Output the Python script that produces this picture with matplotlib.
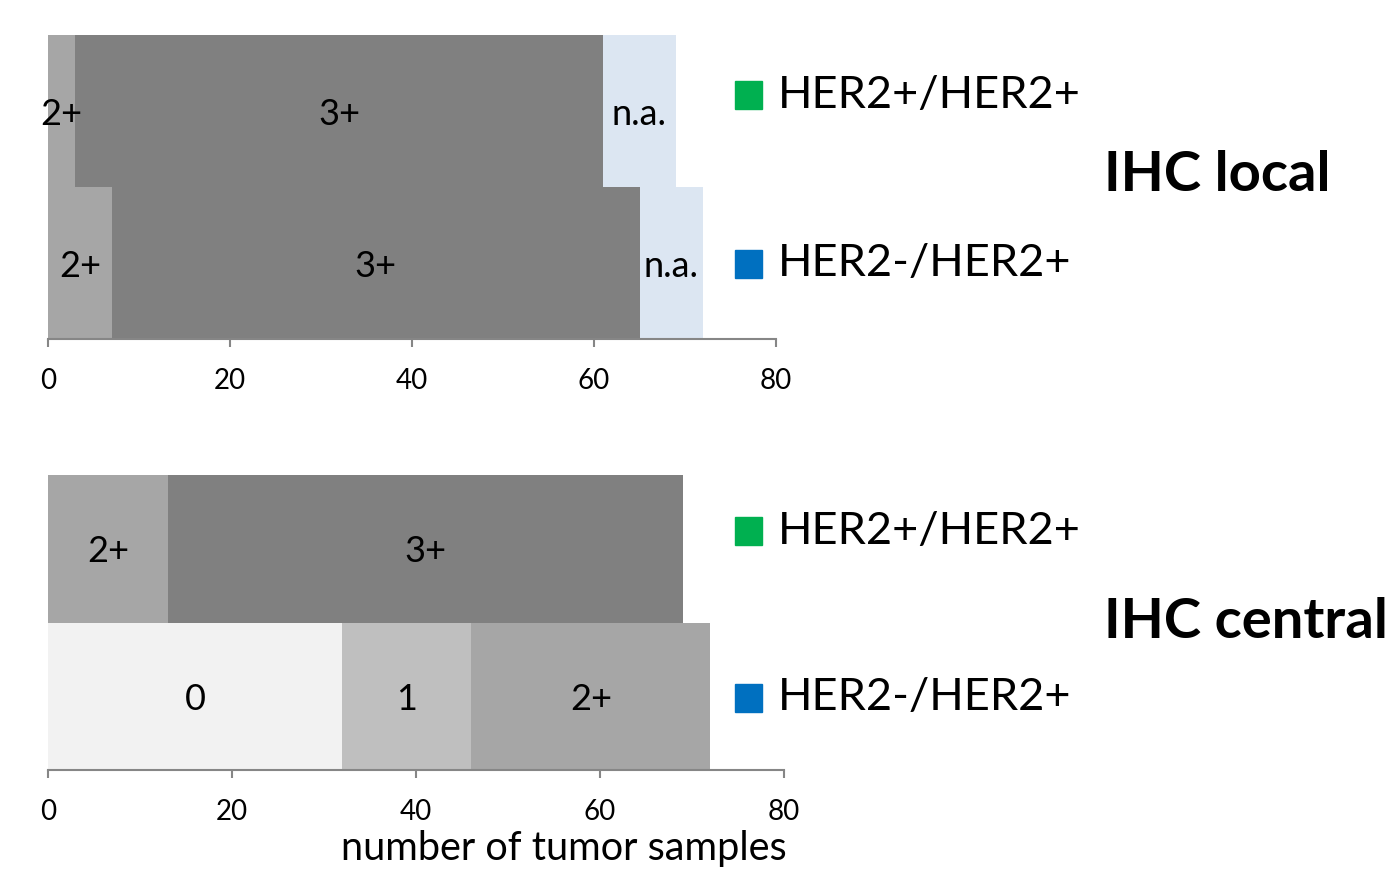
import matplotlib.pyplot as plt
from matplotlib.patches import Rectangle

plt.rcParams['font.family'] = ['Lato', 'DejaVu Sans']

# IHC local: HER2+/HER2+ (top) and HER2-/HER2+ (bottom)
local_cats = ['2+', '3+', 'n.a.']
local_pos = [3, 58, 8]
local_neg = [7, 58, 7]

# IHC central
central_pos_cats = ['2+', '3+']
central_pos = [13, 56]
central_neg_cats = ['0', '1', '2+']
central_neg = [32, 14, 26]

group_names = ['HER2+/HER2+', 'HER2-/HER2+']
group_colors = ['#00b050', '#0070c0']
seg_colors = {'0': '#f2f2f2', '1': '#bfbfbf', '2+': '#a6a6a6',
              '3+': '#808080', 'n.a.': '#dce6f2'}
xticks = [0, 20, 40, 60, 80]
axis_grey = '#868686'

W, H = 1394, 873
fig = plt.figure(figsize=(W / 100, H / 100), dpi=100)


def stacked(ax, ypos, cats, vals):
    left = 0
    for c, v in zip(cats, vals):
        ax.barh(ypos, v, left=left, height=1.0, color=seg_colors[c], edgecolor='none')
        ax.text(left + v / 2, ypos - 0.02, c, ha='center', va='center', fontsize=26)
        left += v


def style(ax):
    ax.set_xlim(0, 80)
    ax.set_ylim(-0.5, 1.5)
    for s in ['top', 'right', 'left']:
        ax.spines[s].set_visible(False)
    ax.spines['bottom'].set_color(axis_grey)
    ax.spines['bottom'].set_linewidth(1.5)
    ax.set_yticks([])
    ax.set_xticks(xticks)
    ax.tick_params(axis='x', direction='out', length=6, width=1.5, color=axis_grey,
                   labelsize=20, pad=15)


# top chart
ax1 = fig.add_axes([48 / W, 1 - 339 / H, 728 / W, 304 / H])
stacked(ax1, 1, local_cats, local_pos)
stacked(ax1, 0, local_cats, local_neg)
style(ax1)

# bottom chart
ax2 = fig.add_axes([48 / W, 1 - 770 / H, 736 / W, 295 / H])
stacked(ax2, 1, central_pos_cats, central_pos)
stacked(ax2, 0, central_neg_cats, central_neg)
style(ax2)
ax2.set_xlabel('number of tumor samples', fontsize=28.5)
ax2.xaxis.set_label_coords(516 / 736, -0.205)


def legend(ys, x0):
    for name, col, y in zip(group_names, group_colors, ys):
        fig.patches.append(Rectangle(((x0) / W, 1 - (y + 14) / H), 27 / W, 28 / H,
                                     transform=fig.transFigure, color=col))
        fig.text((x0 + 43) / W, 1 - y / H, name, fontsize=32.5, va='center', ha='left')


legend([95, 264], 735)
legend([531, 698], 735)

fig.text(1104 / W, 1 - 175 / H, 'IHC local', fontsize=40.5, fontweight='bold', va='center')
fig.text(1104 / W, 1 - 622 / H, 'IHC central', fontsize=40.5, fontweight='bold', va='center')

fig.savefig('out.png', dpi=100)
